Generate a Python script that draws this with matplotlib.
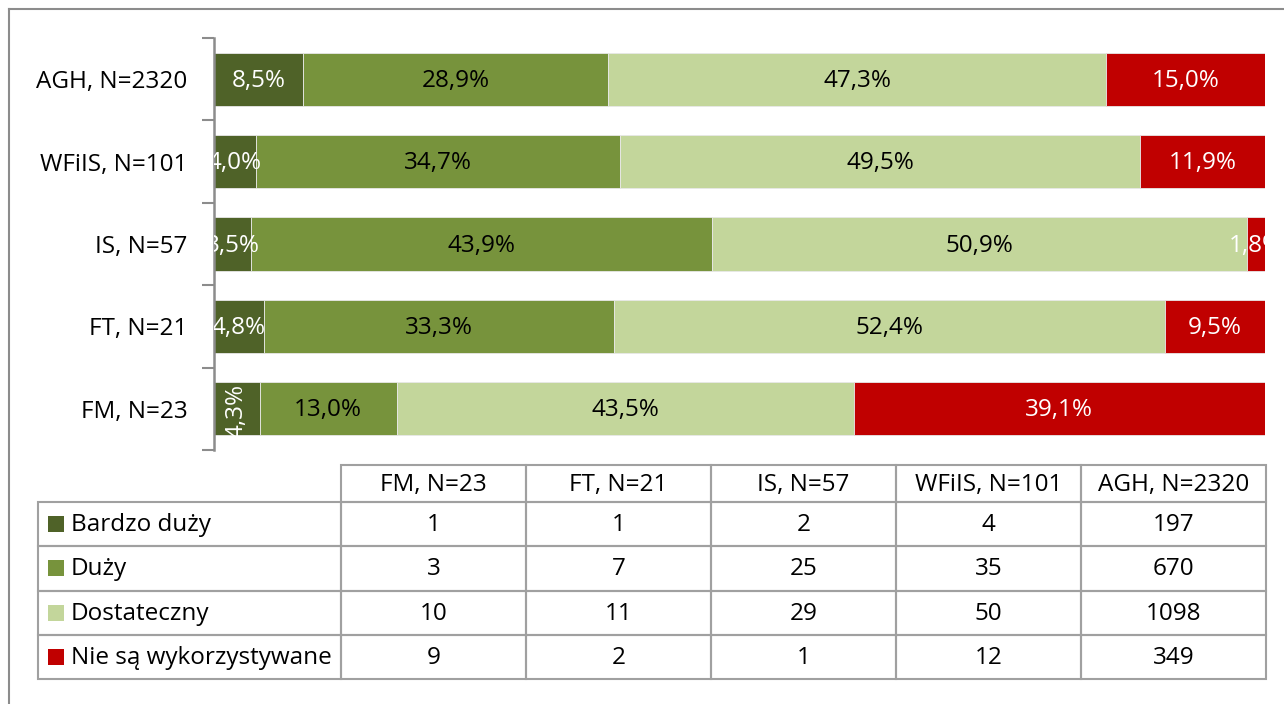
import matplotlib.pyplot as plt
from matplotlib.patches import Rectangle
from matplotlib.lines import Line2D

# table order (bottom to top in chart)
groups = ['FM, N=23', 'FT, N=21', 'IS, N=57', 'WFiIS, N=101', 'AGH, N=2320']
n_total = [23, 21, 57, 101, 2320]
levels = ['Bardzo duży', 'Duży', 'Dostateczny', 'Nie są wykorzystywane']
bardzo_duzy = [1, 1, 2, 4, 197]
duzy = [3, 7, 25, 35, 670]
dostateczny = [10, 11, 29, 50, 1098]
nie_sa = [9, 2, 1, 12, 349]

colors = ['#4F6228', '#77933C', '#C3D69B', '#C00000']
label_colors = ['white', 'black', 'black', 'white']

plt.rcParams['font.family'] = ['Open Sans', 'DejaVu Sans']
FS = 17.5

fig = plt.figure(figsize=(12.84, 7.04), dpi=100)
W, H = 1284, 704

# outer frame (partially cropped in the original)
fig.add_artist(Line2D([9 / W, 1], [1 - 9 / H, 1 - 9 / H], color='#8C8C8C', lw=1.5))
fig.add_artist(Line2D([9 / W, 9 / W], [0, 1 - 9 / H], color='#8C8C8C', lw=1.5))

ax = fig.add_axes([214 / W, 1 - 450 / H, 1051 / W, 412 / H])
series = [bardzo_duzy, duzy, dostateczny, nie_sa]
row_sum = [sum(s[i] for s in series) for i in range(len(groups))]

# bars are 100% stacked (normalised to row sum), labels use the N of each group
left = [0.0] * len(groups)
for k, s in enumerate(series):
    width = [100.0 * v / t for v, t in zip(s, row_sum)]
    pct = [100.0 * v / t for v, t in zip(s, n_total)]
    ax.barh(range(len(groups)), width, left=left, height=0.645, color=colors[k],
            edgecolor='#E8E8E8', linewidth=0.6)
    for i, p in enumerate(pct):
        txt = ('%.1f%%' % p).replace('.', ',')
        rot = 90 if (k == 0 and groups[i].startswith('FM')) else 0
        ax.text(left[i] + width[i] / 2, i - 0.02, txt, ha='center', va='center', fontsize=FS,
                color=label_colors[k], rotation=rot, clip_on=True)
    left = [l + w for l, w in zip(left, width)]

ax.set_xlim(0, 100)
ax.set_ylim(-0.5, len(groups) - 0.5)
ax.set_yticks(range(len(groups)))
ax.set_yticklabels(groups, fontsize=FS)
ax.tick_params(axis='y', which='major', length=0, pad=19)
ax.set_yticks([i - 0.5 for i in range(len(groups) + 1)], minor=True)
ax.tick_params(axis='y', which='minor', length=9, width=1.5, color='#8C8C8C')
ax.set_xticks([])
for sp in ['top', 'right', 'bottom']:
    ax.spines[sp].set_visible(False)
ax.spines['left'].set_color('#8C8C8C')
ax.spines['left'].set_linewidth(1.8)

# data table with legend keys
tab = fig.add_axes([0, 0, 1, 1])
tab.set_xlim(0, W)
tab.set_ylim(H, 0)
tab.axis('off')
x0, lab_w, col_w = 38, 303, 185
y0, head_h, row_h = 465, 37, 44.3
edge = '#A0A0A0'

for j, g in enumerate(groups):
    cx = x0 + lab_w + j * col_w
    tab.add_patch(Rectangle((cx, y0), col_w, head_h, fill=False, ec=edge, lw=1.5))
    tab.text(cx + col_w / 2, y0 + head_h / 2 + 1, g, ha='center', va='center', fontsize=FS)

for r, (name, s) in enumerate(zip(levels, series)):
    ry = y0 + head_h + r * row_h
    tab.add_patch(Rectangle((x0, ry), lab_w, row_h, fill=False, ec=edge, lw=1.5))
    tab.add_patch(Rectangle((x0 + 10, ry + row_h / 2 - 8), 16, 16, color=colors[r], lw=0))
    tab.text(x0 + 33, ry + row_h / 2 + 1, name, ha='left', va='center', fontsize=FS)
    for j, v in enumerate(s):
        cx = x0 + lab_w + j * col_w
        tab.add_patch(Rectangle((cx, ry), col_w, row_h, fill=False, ec=edge, lw=1.5))
        tab.text(cx + col_w / 2, ry + row_h / 2 + 1, str(v), ha='center', va='center', fontsize=FS)

fig.savefig('out.png', dpi=100)
